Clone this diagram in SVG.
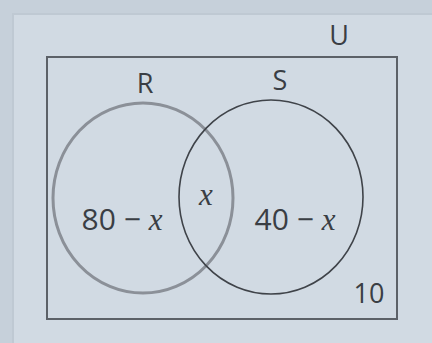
<svg xmlns="http://www.w3.org/2000/svg" width="432" height="343" viewBox="0 0 432 343">
  <style>
    .lbl { font-family: "Open Sans", "Liberation Sans", sans-serif; fill: #3a3e44; font-size: 27px; }
    .expr { font-family: "Open Sans", "Liberation Sans", sans-serif; fill: #3a3e44; font-size: 30px; }
    .var { font-family: "Liberation Serif", serif; font-style: italic; fill: #3a3e44; font-size: 31px; }
  </style>
  <rect x="0" y="0" width="432" height="343" fill="#c6d0da"/>
  <rect x="13" y="14" width="425" height="335" fill="#d1dae3" stroke="#bfc9d3" stroke-width="2"/>
  <g id="universe">
    <rect x="47" y="57" width="350" height="262" fill="none" stroke="#5c6168" stroke-width="2"/>
    <text class="lbl" x="339" y="45" text-anchor="middle">U</text>
    <text class="lbl" x="369" y="303" text-anchor="middle">10</text>
  </g>
  <g id="R">
    <ellipse cx="143" cy="198" rx="90" ry="95" fill="none" stroke="#8b9098" stroke-width="3"/>
    <text class="lbl" x="145" y="93" text-anchor="middle">R</text>
    <text x="122" y="230" text-anchor="middle"><tspan class="expr">80 − </tspan><tspan class="var">x</tspan></text>
  </g>
  <g id="S">
    <ellipse cx="271" cy="197" rx="92" ry="97" fill="none" stroke="#3f4349" stroke-width="1.6"/>
    <text class="lbl" x="280" y="90" text-anchor="middle">S</text>
    <text x="295" y="230" text-anchor="middle"><tspan class="expr">40 − </tspan><tspan class="var">x</tspan></text>
  </g>
  <g id="intersection">
    <text class="var" x="206" y="205" text-anchor="middle">x</text>
  </g>
  <g id="connectors"/>
</svg>
